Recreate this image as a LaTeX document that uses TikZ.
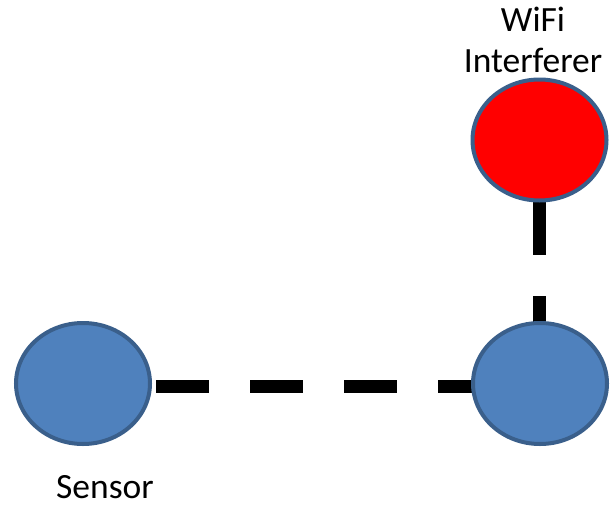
\documentclass[tikz,border=0pt]{standalone}
\usepackage{fontspec}
\setmainfont{Carlito}
\usetikzlibrary{shapes.geometric,backgrounds}
\tikzset{
  dev/.style={ellipse, draw=devborder, line width=4pt, minimum width=134pt, minimum height=121pt, inner sep=0pt},
  sensorfill/.style={dev, fill=devblue},
  interfill/.style={dev, fill=devred},
  conn/.style={line width=13pt, black, dash pattern=on 53pt off 41pt},
  lbl/.style={font=\fontsize{35.5pt}{41pt}\selectfont, inner sep=0pt, align=center}
}
\definecolor{devblue}{HTML}{4F81BD}
\definecolor{devborder}{HTML}{3A5F8B}
\definecolor{devred}{HTML}{FF0000}
\begin{document}
\begin{tikzpicture}[x=1pt,y=-1pt]
\useasboundingbox (0,0) rectangle (613,506);
\node[sensorfill] (s) at (83,383.5) {};
\node[sensorfill] (r) at (540,383.5) {};
\node[interfill] (w) at (539.5,140) {};
\begin{scope}[on background layer]
\draw[conn, dash phase=21pt] ([yshift=-3pt]s.center) -- ([yshift=-3pt]r.center);
\draw[conn, dash phase=32pt] (w.center) -- (w.center |- r.center);
\end{scope}
\node[lbl] (wl) at (533,40) {WiFi\\Interferer};
\node[lbl, anchor=base] (sl) at (105,498) {Sensor};
\end{tikzpicture}
\end{document}
